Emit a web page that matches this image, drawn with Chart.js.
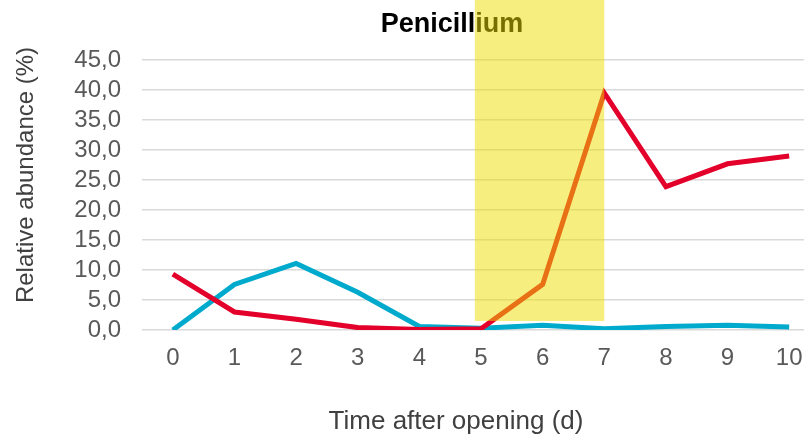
<!DOCTYPE html>
<html>
<head>
<meta charset="utf-8">
<script src="https://cdn.jsdelivr.net/npm/chart.js@4/dist/chart.umd.min.js"></script>
<style>
  html, body { margin: 0; padding: 0; background: #fff; overflow: hidden; }
  #wrap { width: 820px; height: 437px; position: relative; }
</style>
</head>
<body>
<div id="wrap"><canvas id="c"></canvas></div>
<script>
// Days after opening
const days = ['0', '1', '2', '3', '4', '5', '6', '7', '8', '9', '10'];
// Relative abundance (%) of the two series
const redSeries  = [9.3, 3.0, 1.8, 0.4, 0.1, 0.2, 7.6, 39.5, 23.9, 27.7, 29.0];
const blueSeries = [0.0, 7.6, 11.1, 6.3, 0.6, 0.3, 0.8, 0.2, 0.6, 0.8, 0.5];
// Highlighted day window
const highlightFrom = 4.9;
const highlightTo = 7.0;
const highlightFloor = 1.5;

const chartTitle = 'Penicillium';
const xTitle = 'Time after opening (d)';
const yTitle = 'Relative abundance (%)';
const FONT = '"Liberation Sans", Arial, sans-serif';

const fmt = v => v.toFixed(1).replace('.', ',');

// Chart and axis titles, drawn beneath the data so the highlight tints them
const titlePlugin = {
  id: 'titleText',
  beforeDatasetsDraw(chart) {
    const ctx = chart.ctx;
    ctx.save();
    ctx.textAlign = 'center';
    ctx.textBaseline = 'alphabetic';
    ctx.font = 'bold 27px ' + FONT;
    ctx.fillStyle = '#000';
    ctx.fillText(chartTitle, 452, 32);

    ctx.font = '26px ' + FONT;
    ctx.fillStyle = '#404040';
    ctx.fillText(xTitle, 456, 429);

    ctx.font = '24px ' + FONT;
    ctx.translate(33, 175);
    ctx.rotate(-Math.PI / 2);
    ctx.fillText(yTitle, 0, 0);
    ctx.restore();
  }
};

// Translucent band over the highlighted days
const bandPlugin = {
  id: 'band',
  afterDatasetsDraw(chart) {
    const x = chart.scales.x, y = chart.scales.y;
    const ctx = chart.ctx;
    const step = x.getPixelForValue(1) - x.getPixelForValue(0);
    const x0 = x.getPixelForValue(0) + highlightFrom * step;
    const x1 = x.getPixelForValue(0) + highlightTo * step;
    const yb = y.getPixelForValue(highlightFloor);
    ctx.save();
    ctx.fillStyle = 'rgba(238, 224, 0, 0.5)';
    ctx.fillRect(x0, 0, x1 - x0, yb);
    ctx.restore();
  }
};

new Chart(document.getElementById('c'), {
  type: 'line',
  data: {
    labels: days,
    datasets: [
      { data: redSeries, borderColor: '#E3002B', borderWidth: 5, pointRadius: 0, tension: 0, fill: false },
      { data: blueSeries, borderColor: '#00AACD', borderWidth: 5, pointRadius: 0, tension: 0, fill: false }
    ]
  },
  options: {
    responsive: true,
    maintainAspectRatio: false,
    animation: false,
    layout: { padding: { top: 60, right: 0, left: 0, bottom: 0 } },
    plugins: { legend: { display: false }, tooltip: { enabled: false } },
    scales: {
      x: {
        type: 'category',
        offset: true,
        grid: { display: false, drawTicks: false },
        border: { display: false },
        ticks: { color: '#595959', font: { size: 24, family: FONT }, padding: 14, maxRotation: 0, autoSkip: false },
        afterFit(s) { s.height = 107; }
      },
      y: {
        min: 0, max: 45,
        ticks: { stepSize: 5, autoSkip: false, callback: v => fmt(v), color: '#595959', font: { size: 24, family: FONT }, padding: 21 },
        grid: { color: '#D9D9D9', lineWidth: 1.5, drawTicks: false },
        border: { display: false },
        afterFit(s) { s.width = 142; }
      }
    }
  },
  plugins: [titlePlugin, bandPlugin]
});
</script>
</body>
</html>
